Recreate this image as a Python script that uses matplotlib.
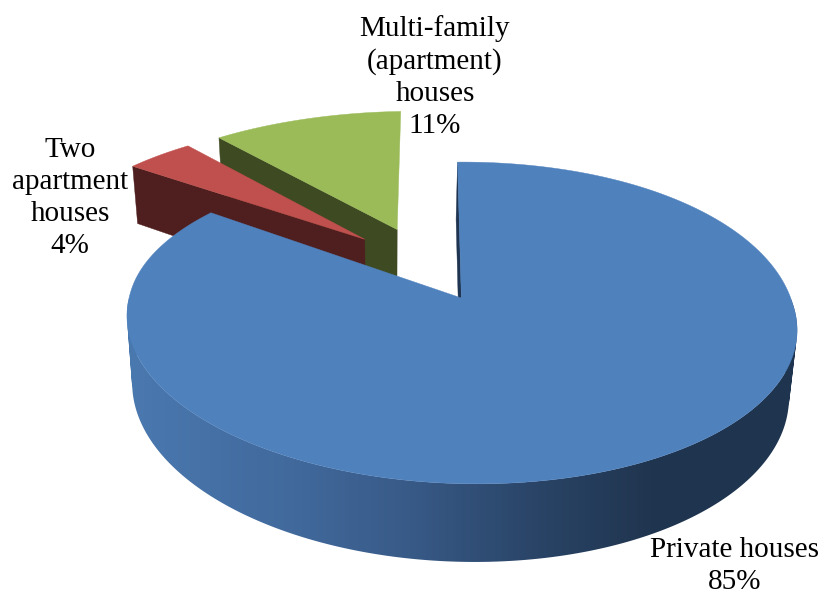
import numpy as np
import matplotlib
matplotlib.use('Agg')
import matplotlib.pyplot as plt
from matplotlib.colors import LinearSegmentedColormap
from matplotlib.patches import PathPatch
from matplotlib.path import Path

# Housing stock shares, percent
labels = ['Private houses', 'Two\napartment\nhouses', 'Multi-family\n(apartment)\nhouses']
shares = [85, 4, 11]

top_colors = ['#4f81bd', '#c0504d', '#9bbb59']
wall_colors = ['#1f3450', '#4f1f1f', '#3e4a22']
# how far each slice is pulled out, in units of the pie radius
offsets = [(-0.005, 0.0), (-0.307, 0.392), (-0.205, 0.465)]

label_pos = [(735, 566), (70, 198), (435, 77)]

# projection of the pie disc onto the canvas
CX, CY = 463, 298
RX, RY = 331, 157
PERSP = 0.155
SHEAR = -4.6
TILT = 5
TWIST_X = 6
TWIST_Y = -7
DEPTH = 66

blue_wall = LinearSegmentedColormap.from_list(
    'wall', [(0, '#4a79b0'), (0.25, '#41699c'), (0.42, '#385a87'),
             (0.6, '#2a4568'), (0.78, '#20354f'), (1, '#1f3450')])


def project(x, y, bottom=False):
    w = 1 + PERSP * y
    scale = 0.98 if bottom else 1.0
    # the twist only bends the far half of the disc
    far = np.maximum(y, 0)
    px = CX + (RX * scale * x + SHEAR * y + TWIST_X * x * far) / w
    py = CY + (-RY * y + TILT * x + TWIST_Y * x * far) / w
    if bottom:
        px = px - 1.5
        py = py + DEPTH / w
    return px, py


def rim(start, end, off, bottom=False, n=240):
    t = np.radians(np.linspace(start, end, n))
    return project(off[0] + np.sin(t), off[1] + np.cos(t), bottom)


def slice_top(start, end, off):
    rx, ry = rim(start, end, off)
    ax0, ay0 = project(off[0], off[1])
    return np.r_[ax0, rx], np.r_[ay0, ry]


def edge_wall(angle, off):
    # flat cut face between the centre and the rim
    t = np.radians(angle)
    ex, ey = off[0] + np.sin(t), off[1] + np.cos(t)
    tx = project(np.array([off[0], ex]), np.array([off[1], ey]))
    bx = project(np.array([ex, off[0]]), np.array([ey, off[1]]), True)
    return np.r_[tx[0], bx[0]], np.r_[tx[1], bx[1]]


def side_path(start, end, off, n=300):
    # union of small quads so the outline follows the tangent at both ends
    tx, ty = rim(start, end, off, n=n)
    bx, by = rim(start, end, off, True, n=n)
    quads = []
    for i in range(n - 1):
        q = np.array([[tx[i], ty[i]], [tx[i + 1], ty[i + 1]],
                      [bx[i + 1], by[i + 1]], [bx[i], by[i]], [tx[i], ty[i]]])
        area = np.sum(q[:-1, 0] * q[1:, 1] - q[1:, 0] * q[:-1, 1])
        if area < 0:
            q = q[::-1]
        quads.append(Path(q, closed=True))
    return Path.make_compound_path(*quads)


fig = plt.figure(figsize=(8.23, 5.94), dpi=100)
ax = fig.add_axes([0, 0, 1, 1])
ax.axis('off')

angles = np.r_[0, np.cumsum(shares) * 3.6]

# small slices first, the big one overlaps them
for i in [2, 1]:
    px, py = edge_wall(angles[i], offsets[i])
    ax.fill(px, py, color=wall_colors[i], lw=0.3)
    px, py = slice_top(angles[i], angles[i + 1], offsets[i])
    ax.fill(px, py, color=top_colors[i], lw=0.3)

# cut face and curved side of the big slice
px, py = edge_wall(angles[0], offsets[0])
ax.fill(px, py, color=wall_colors[0], lw=0.3)

side = PathPatch(side_path(60, 300, offsets[0]), facecolor='none', edgecolor='none',
                 transform=ax.transData)
ax.add_patch(side)
ramp = np.linspace(0, 1, 600).reshape(1, -1)
img = ax.imshow(ramp, cmap=blue_wall, extent=(125, 802, 600, 300), aspect='auto', zorder=1.5)
img.set_clip_path(side)

px, py = slice_top(angles[0], angles[1], offsets[0])
ax.fill(px, py, color=top_colors[0], lw=0.3, zorder=2)

for name, val, pos in zip(labels, shares, label_pos):
    ax.text(pos[0], pos[1], f'{name}\n{val}%', ha='center', va='center',
            multialignment='center', family='Liberation Serif', fontsize=21,
            linespacing=1.3, color='black', zorder=3)

ax.set_xlim(0, 823)
ax.set_ylim(594, 0)
fig.savefig('out.png', dpi=100)
